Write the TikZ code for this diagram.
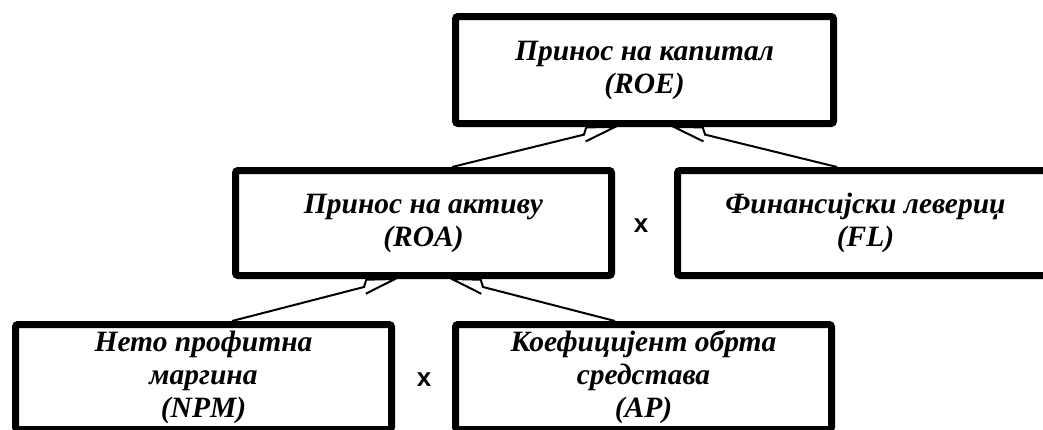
\documentclass[tikz,border=0pt]{standalone}
\usepackage{fontspec}
\setmainfont{Liberation Serif}
\newfontfamily\xsans{Liberation Sans}
\usetikzlibrary{arrows.meta}

\pgfdeclarearrow{
  name = NotchR,
  setup code = {
    \pgfarrowssettipend{0pt}
    \pgfarrowssetlineend{-31pt}
    \pgfarrowssetbackend{-32pt}
    \pgfarrowshullpoint{0pt}{0pt}
    \pgfarrowshullpoint{-32pt}{-7pt}
    \pgfarrowshullpoint{-32pt}{7pt}
  },
  drawing code = {
    \pgfsetdash{}{0pt}
    \pgfpathmoveto{\pgfpoint{-32pt}{-7pt}}
    \pgfpathlineto{\pgfpointorigin}
    \pgfpathlineto{\pgfpoint{-28pt}{6.5pt}}
    \pgfpathlineto{\pgfpoint{-32pt}{0pt}}
    \pgfusepathqstroke
  }
}
\pgfdeclarearrow{
  name = NotchL,
  setup code = {
    \pgfarrowssettipend{0pt}
    \pgfarrowssetlineend{-31pt}
    \pgfarrowssetbackend{-32pt}
    \pgfarrowshullpoint{0pt}{0pt}
    \pgfarrowshullpoint{-32pt}{-7pt}
    \pgfarrowshullpoint{-32pt}{7pt}
  },
  drawing code = {
    \pgfsetdash{}{0pt}
    \pgfpathmoveto{\pgfpoint{-32pt}{7pt}}
    \pgfpathlineto{\pgfpointorigin}
    \pgfpathlineto{\pgfpoint{-28pt}{-6.5pt}}
    \pgfpathlineto{\pgfpoint{-32pt}{0pt}}
    \pgfusepathqstroke
  }
}

\begin{document}
\begin{tikzpicture}[x=1pt,y=-1pt,
  box/.style={draw, line width=7pt, rounded corners=2.5pt, align=center,
    inner sep=0pt, minimum width=376pt,
    font=\bfseries\itshape\fontsize{29.5}{33}\selectfont},
  conn/.style={line width=2pt},
  times/.style={font=\xsans\bfseries\fontsize{26}{26}\selectfont, inner sep=0pt}]
\useasboundingbox (0,0) rectangle (1043,429);
\clip (0,0) rectangle (1043,429);

\node[box, minimum width=378pt, minimum height=107pt] (roe) at (644.5,70) {Принос на капитал\\(ROE)};
\node[box, minimum height=105pt] (roa) at (423.5,223) {Принос на активу\\(ROA)};
\node[box, minimum height=105pt] (fl) at (865.5,223) {Финансијски левериџ\\(FL)};
\node[box, minimum height=105pt] (npm) at (203.5,377) {Нето профитна\\маргина\\(NPM)};
\node[box, minimum height=105pt] (ap) at (643.5,377) {Коефицијент обрта\\средстава\\(AP)};

\node[times] (x1) at (641,226) {x};
\node[times] (x2) at (424,380) {x};

\draw[conn,-NotchR] (roa.north -| roe.west) -- (roe.south -| roa.east);
\draw[conn,-NotchL] (fl.north -| roe.east) -- (roe.south -| fl.west);
\draw[conn,-NotchR] (npm.north -| roa.west) -- (roa.south -| npm.east);
\draw[conn,-NotchL] (ap.north -| roa.east) -- (roa.south -| ap.west);
\end{tikzpicture}
\end{document}
